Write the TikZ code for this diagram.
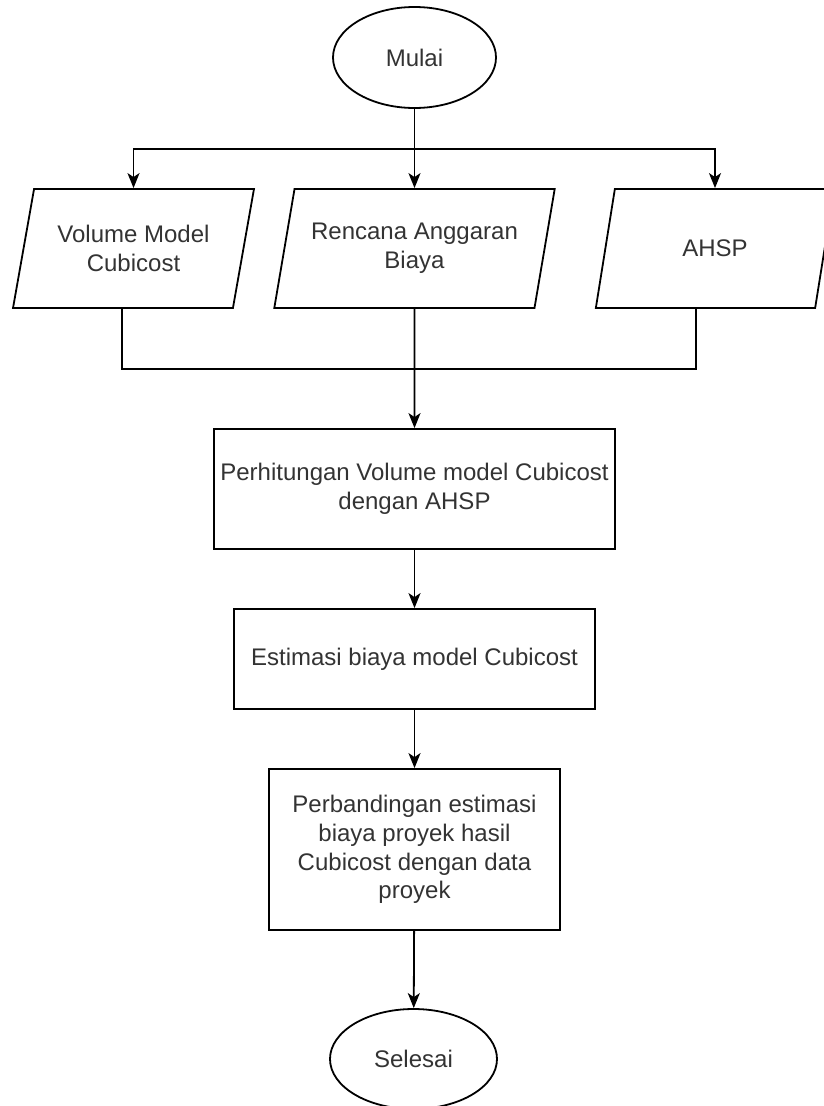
\documentclass[tikz,border=0pt]{standalone}
\usepackage{fontspec}
\setmainfont{Liberation Sans}
\usetikzlibrary{shapes.geometric}
\usetikzlibrary{arrows.meta}

\begin{document}
\begin{tikzpicture}[x=1pt,y=-1pt,->,>={Stealth[length=15pt,width=12pt,inset=4pt]},line width=1.8pt,
    font=\fontsize{24}{28.8}\selectfont,
    term node/.style={ellipse,draw,text=black!80,inner sep=0pt},
    data node/.style={trapezium,trapezium left angle=71.4,trapezium right angle=108.6,trapezium stretches=true,
      draw,align=center,text=black!80,minimum height=119pt,inner sep=1pt},
    proc node/.style={rectangle,draw,align=center,text=black!80,inner sep=2pt}]
  \useasboundingbox (0,0) rectangle (823,1106);
  \begin{scope}
    \node[term node,minimum width=163pt,minimum height=101pt] (mulai) at (414.5,57.5) {Mulai};
    % input data
    \node[data node,minimum width=241pt] (vol) at (133.5,248.5) {Volume Model\\Cubicost};
    \node[data node,minimum width=281pt] (rab) at (414.5,248.5) {Rencana Anggaran\\Biaya};
    \node[data node,minimum width=240pt] (ahsp) at (715,248.5) {AHSP};
    % proses
    \node[proc node,minimum width=401pt,minimum height=120pt] (hitung) at (414.5,489) {Perhitungan Volume model Cubicost\\dengan AHSP};
    \node[proc node,minimum width=361pt,minimum height=100pt] (estimasi) at (414.5,659) {Estimasi biaya model Cubicost};
    \node[proc node,minimum width=291pt,minimum height=161pt] (banding) at (414.5,849.5) {Perbandingan estimasi\\biaya proyek hasil\\Cubicost dengan data\\proyek};
    \node[term node,minimum width=167pt,minimum height=100pt] (selesai) at (413.5,1059) {Selesai};
    \coordinate (split) at (414.5,149);
    \coordinate (join) at (414.5,369);
    \path (mulai) edge (rab);
    \draw (split) -| (vol);
    \draw (split) -| (ahsp);
    \draw[-] ([xshift=-11.5pt]vol.south) |- (join);
    \draw[-] ([xshift=-19pt]ahsp.south) |- (join);
    \path (rab) edge (hitung);
    \path (hitung) edge (estimasi);
    \path (estimasi) edge (banding);
    \path (banding) edge (selesai);
  \end{scope}
\end{tikzpicture}
\end{document}
